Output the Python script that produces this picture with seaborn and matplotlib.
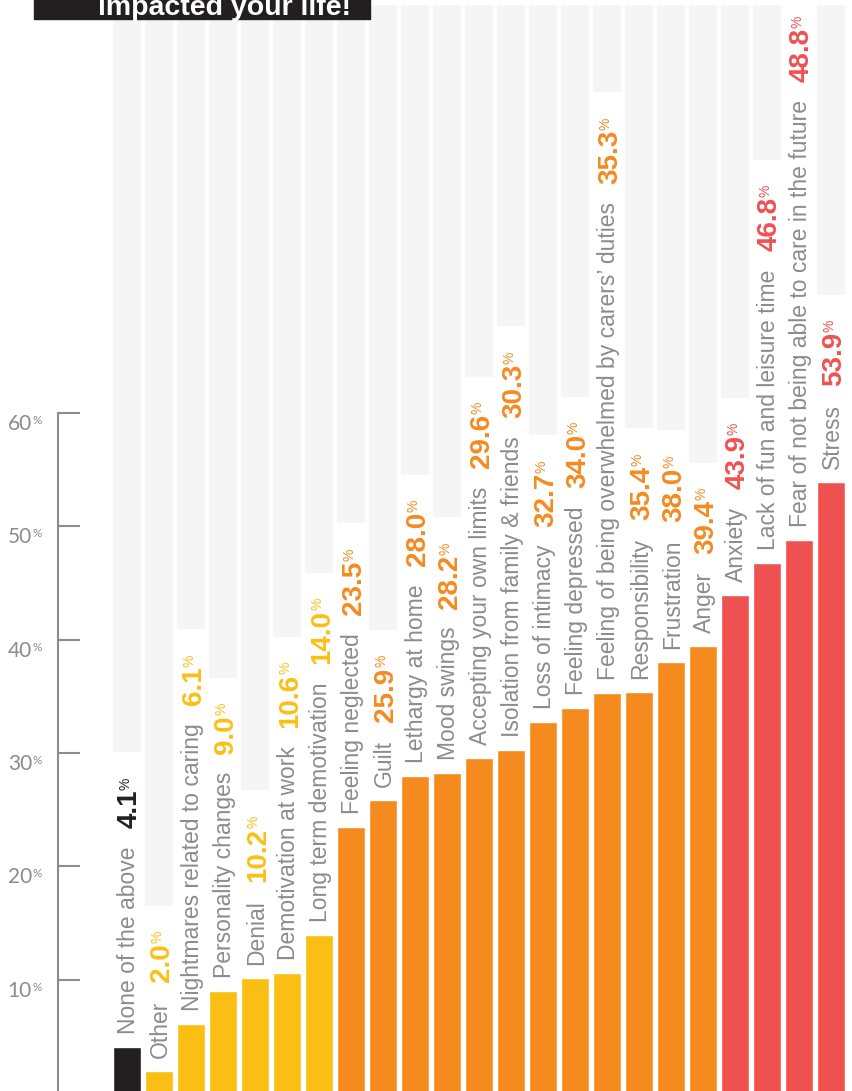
import numpy as np
import pandas as pd
import matplotlib
matplotlib.use('Agg')
import matplotlib.pyplot as plt
from matplotlib.patches import Rectangle
import seaborn as sns

# ---------------- data ----------------
categories = [
    "None of the above", "Other", "Nightmares related to caring",
    "Personality changes", "Denial", "Demotivation at work",
    "Long term demotivation", "Feeling neglected", "Guilt",
    "Lethargy at home", "Mood swings", "Accepting your own limits",
    "Isolation from family & friends", "Loss of intimacy",
    "Feeling depressed", "Feeling of being overwhelmed by carers\u2019 duties",
    "Responsibility", "Frustration", "Anger", "Anxiety",
    "Lack of fun and leisure time",
    "Fear of not being able to care in the future", "Stress",
]
values = [4.1, 2.0, 6.1, 9.0, 10.2, 10.6, 14.0, 23.5, 25.9, 28.0, 28.2, 29.6,
          30.3, 32.7, 34.0, 35.3, 35.4, 38.0, 39.4, 43.9, 46.8, 48.8, 53.9]
groups = ["none"] + ["low"] * 6 + ["mid"] * 12 + ["high"] * 4
group_order = ["none", "low", "mid", "high"]
group_colors = {"none": "#231f20", "low": "#fbbf14", "mid": "#f58a1f", "high": "#ef5151"}
y_ticks = [10, 20, 30, 40, 50, 60]
title_text = "impacted your life!"

GRAY = "#8c8c8c"
BG = "#f5f5f5"

sns.set_theme(style="white")
plt.rcParams["font.family"] = ["Liberation Sans", "DejaVu Sans"]

W, H = 853, 1091
fig = plt.figure(figsize=(W / 100, H / 100), dpi=100)
ax = fig.add_axes([58 / W, 0, 1 - 58 / W, 1])
ax.set_facecolor("none")

df = pd.DataFrame({"category": categories, "value": values, "group": groups})
sns.barplot(data=df, x="category", y="value", hue="group", order=categories,
            hue_order=group_order, palette=group_colors, dodge=False,
            width=0.88, saturation=1, errorbar=None, legend=False, ax=ax,
            zorder=2)

ax.set_xlim(-2.156, 22.6875)
ax.set_ylim(0.2, 96.41)
ax.set_xlabel("")
ax.set_ylabel("")
ax.set_xticks([])
sns.despine(ax=ax, top=True, right=True, bottom=True, left=False)
ax.spines["left"].set_bounds(0, 60)
ax.spines["left"].set_color(GRAY)
ax.spines["left"].set_linewidth(1.5)
ax.set_yticks(y_ticks)
ax.set_yticklabels([])
ax.tick_params(axis="y", direction="in", length=16, width=1.5, color=GRAY, left=True)
ax.grid(False)

for v in y_ticks:
    ax.annotate(f"{v}", xy=(0, v), xycoords=("axes fraction", "data"),
                xytext=(-26, -1), textcoords="offset pixels", ha="right", va="top",
                fontsize=15, color=GRAY, family=["Lato", "DejaVu Sans"])
    ax.annotate("%", xy=(0, v), xycoords=("axes fraction", "data"),
                xytext=(-25, -2), textcoords="offset pixels", ha="left", va="top",
                fontsize=8.5, color=GRAY, family=["Lato", "DejaVu Sans"])

# ---------------- labels on bars ----------------
fig.canvas.draw()
r = fig.canvas.get_renderer()
BG_TOP = 96.0
for i, (c, v, g) in enumerate(zip(categories, values, groups)):
    col = group_colors[g]
    base = ax.transData.transform((i, v))[1]
    t1 = ax.annotate(c, xy=(i, v), xytext=(8, 13), textcoords="offset pixels",
                     rotation=90, rotation_mode="anchor", ha="left", va="baseline",
                     fontsize=16.5, color=GRAY, zorder=3)
    bb1 = t1.get_window_extent(r)
    t2 = ax.annotate(f"{v:.1f}", xy=(i, v), xytext=(10, bb1.y1 - base + 18),
                     textcoords="offset pixels", rotation=90, rotation_mode="anchor",
                     ha="left", va="baseline", fontsize=20, weight="bold",
                     color=col, zorder=3)
    bb2 = t2.get_window_extent(r)
    t3 = ax.annotate("%", xy=(i, v), xytext=(3, bb2.y1 - base),
                     textcoords="offset pixels", rotation=90, rotation_mode="anchor",
                     ha="left", va="baseline", fontsize=10, color=col, zorder=3)
    bb3 = t3.get_window_extent(r)
    gb = ax.transData.inverted().transform((0, bb3.y1 + 25))[1]
    if gb < BG_TOP:
        ax.bar(i, BG_TOP - gb, bottom=gb, width=0.9, color=BG, zorder=0, linewidth=0)

# ---------------- title fragment ----------------
fig.add_artist(Rectangle((34 / W, 1 - 19 / H), 336 / W, 19 / H + 0.01,
                         transform=fig.transFigure, color="#231f20", zorder=5))
fig.text(98 / W, 1 - 15 / H, title_text, color="white", weight="bold",
         fontsize=20.5, ha="left", va="baseline", zorder=6)

fig.savefig("out.png", dpi=100)
